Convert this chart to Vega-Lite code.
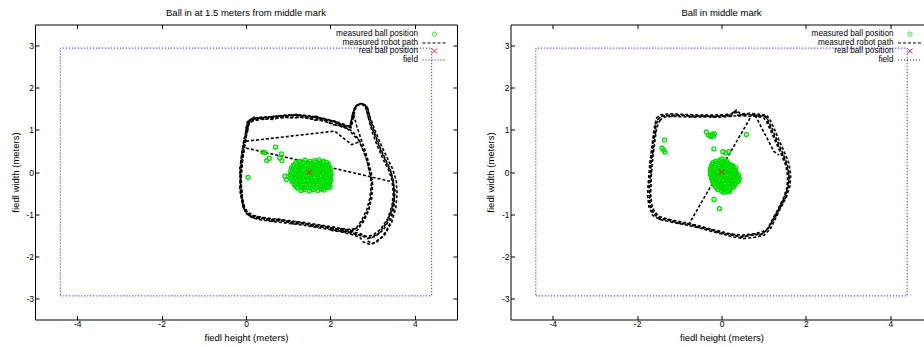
{
"$schema": "https://vega.github.io/schema/vega-lite/v6.json",
"padding": {"left": 9, "top": 6.5, "right": -9, "bottom": 3},
"background": "white",
"config": {
  "font": "Liberation Sans",
  "view": {"stroke": "#000", "strokeWidth": 1},
  "axis": {"grid": false, "domain": false, "tickColor": "#000", "tickSize": -4, "tickWidth": 1, "labelFont": "Liberation Sans", "labelFontSize": 8.5, "labelColor": "#000", "titleFont": "Liberation Sans", "titleFontSize": 9.5, "titleFontWeight": "normal", "titleColor": "#000"},
  "axisX": {"labelPadding": 4, "titlePadding": 4.5},
  "axisY": {"labelPadding": 5.5, "titlePadding": 5.5},
  "title": {"font": "Liberation Sans", "fontSize": 9.5, "fontWeight": "normal", "color": "#000", "offset": 7, "frame": "group", "anchor": "middle"}
},
"spacing": 26.5,
"resolve": {"scale": {"color": "independent"}, "legend": {"color": "independent"}},
"datasets": {
  "field": [{"x":-4.4,"y":-2.94},{"x":4.4,"y":-2.94},{"x":4.4,"y":2.94},{"x":-4.4,"y":2.94},{"x":-4.4,"y":-2.94}],
  "lpath": [
    {"loop":"a","x":0.03,"y":1.02},{"loop":"a","x":0.06,"y":1.17},{"loop":"a","x":0.18,"y":1.25},{"loop":"a","x":0.4,"y":1.28},{"loop":"a","x":0.65,"y":1.3},{"loop":"a","x":0.9,"y":1.33},{"loop":"a","x":1.15,"y":1.34},{"loop":"a","x":1.4,"y":1.32},{"loop":"a","x":1.65,"y":1.28},{"loop":"a","x":1.85,"y":1.25},{"loop":"a","x":2.08,"y":1.18},{"loop":"a","x":2.3,"y":1.1},{"loop":"a","x":2.49,"y":1.05},{"loop":"a","x":2.54,"y":1.28},{"loop":"a","x":2.59,"y":1.5},{"loop":"a","x":2.68,"y":1.6},{"loop":"a","x":2.79,"y":1.59},{"loop":"a","x":2.86,"y":1.47},{"loop":"a","x":2.92,"y":1.2},{"loop":"a","x":3.0,"y":0.92},{"loop":"a","x":3.12,"y":0.6},{"loop":"a","x":3.25,"y":0.3},{"loop":"a","x":3.38,"y":0.05},{"loop":"a","x":3.46,"y":-0.2},{"loop":"a","x":3.49,"y":-0.5},{"loop":"a","x":3.46,"y":-0.8},{"loop":"a","x":3.36,"y":-1.1},{"loop":"a","x":3.2,"y":-1.35},{"loop":"a","x":3.02,"y":-1.49},{"loop":"a","x":2.86,"y":-1.53},{"loop":"a","x":2.7,"y":-1.46},{"loop":"a","x":2.5,"y":-1.41},{"loop":"a","x":2.25,"y":-1.37},{"loop":"a","x":2.0,"y":-1.33},{"loop":"a","x":1.75,"y":-1.29},{"loop":"a","x":1.5,"y":-1.25},{"loop":"a","x":1.25,"y":-1.21},{"loop":"a","x":1.0,"y":-1.18},{"loop":"a","x":0.75,"y":-1.15},{"loop":"a","x":0.5,"y":-1.12},{"loop":"a","x":0.3,"y":-1.09},{"loop":"a","x":0.12,"y":-1.05},{"loop":"a","x":0.0,"y":-0.97},{"loop":"a","x":-0.08,"y":-0.8},{"loop":"a","x":-0.12,"y":-0.55},{"loop":"a","x":-0.14,"y":-0.3},{"loop":"a","x":-0.14,"y":-0.05},{"loop":"a","x":-0.12,"y":0.2},{"loop":"a","x":-0.09,"y":0.45},{"loop":"a","x":-0.05,"y":0.7},{"loop":"a","x":-0.01,"y":0.88},{"loop":"a","x":0.03,"y":1.02},
    {"loop":"b","x":0.01,"y":1.0},{"loop":"b","x":0.04,"y":1.14},{"loop":"b","x":0.16,"y":1.21},{"loop":"b","x":0.38,"y":1.25},{"loop":"b","x":0.62,"y":1.27},{"loop":"b","x":0.88,"y":1.29},{"loop":"b","x":1.12,"y":1.3},{"loop":"b","x":1.38,"y":1.29},{"loop":"b","x":1.62,"y":1.25},{"loop":"b","x":1.84,"y":1.21},{"loop":"b","x":2.06,"y":1.14},{"loop":"b","x":2.28,"y":1.07},{"loop":"b","x":2.46,"y":1.01},{"loop":"b","x":2.58,"y":0.9},{"loop":"b","x":2.7,"y":0.72},{"loop":"b","x":2.8,"y":0.48},{"loop":"b","x":2.88,"y":0.22},{"loop":"b","x":2.95,"y":-0.05},{"loop":"b","x":2.97,"y":-0.3},{"loop":"b","x":2.94,"y":-0.6},{"loop":"b","x":2.86,"y":-0.9},{"loop":"b","x":2.74,"y":-1.15},{"loop":"b","x":2.6,"y":-1.35},{"loop":"b","x":2.4,"y":-1.36},{"loop":"b","x":2.15,"y":-1.32},{"loop":"b","x":1.9,"y":-1.28},{"loop":"b","x":1.65,"y":-1.24},{"loop":"b","x":1.4,"y":-1.2},{"loop":"b","x":1.15,"y":-1.17},{"loop":"b","x":0.9,"y":-1.14},{"loop":"b","x":0.65,"y":-1.11},{"loop":"b","x":0.4,"y":-1.08},{"loop":"b","x":0.18,"y":-1.03},{"loop":"b","x":0.03,"y":-0.95},{"loop":"b","x":-0.06,"y":-0.78},{"loop":"b","x":-0.1,"y":-0.52},{"loop":"b","x":-0.12,"y":-0.28},{"loop":"b","x":-0.12,"y":-0.02},{"loop":"b","x":-0.1,"y":0.23},{"loop":"b","x":-0.07,"y":0.48},{"loop":"b","x":-0.03,"y":0.72},{"loop":"b","x":0.01,"y":0.88},{"loop":"b","x":0.01,"y":1.0},
    {"loop":"c","x":0.05,"y":1.06},{"loop":"c","x":0.09,"y":1.2},{"loop":"c","x":0.22,"y":1.27},{"loop":"c","x":0.45,"y":1.3},{"loop":"c","x":0.7,"y":1.32},{"loop":"c","x":0.95,"y":1.35},{"loop":"c","x":1.2,"y":1.36},{"loop":"c","x":1.45,"y":1.34},{"loop":"c","x":1.7,"y":1.3},{"loop":"c","x":1.9,"y":1.26},{"loop":"c","x":2.12,"y":1.2},{"loop":"c","x":2.32,"y":1.13},{"loop":"c","x":2.47,"y":1.08},{"loop":"c","x":2.51,"y":1.3},{"loop":"c","x":2.57,"y":1.52},{"loop":"c","x":2.67,"y":1.62},{"loop":"c","x":2.8,"y":1.62},{"loop":"c","x":2.89,"y":1.5},{"loop":"c","x":2.95,"y":1.24},{"loop":"c","x":3.04,"y":0.95},{"loop":"c","x":3.16,"y":0.63},{"loop":"c","x":3.29,"y":0.33},{"loop":"c","x":3.41,"y":0.08},{"loop":"c","x":3.49,"y":-0.18},{"loop":"c","x":3.52,"y":-0.48},{"loop":"c","x":3.5,"y":-0.8},{"loop":"c","x":3.4,"y":-1.12},{"loop":"c","x":3.25,"y":-1.38},{"loop":"c","x":3.06,"y":-1.53},{"loop":"c","x":2.88,"y":-1.58},{"loop":"c","x":2.72,"y":-1.5},{"loop":"c","x":2.52,"y":-1.45},{"loop":"c","x":2.27,"y":-1.41},{"loop":"c","x":2.02,"y":-1.37},{"loop":"c","x":1.77,"y":-1.33},{"loop":"c","x":1.52,"y":-1.29},{"loop":"c","x":1.27,"y":-1.25},{"loop":"c","x":1.02,"y":-1.22},{"loop":"c","x":0.77,"y":-1.19},{"loop":"c","x":0.52,"y":-1.16},{"loop":"c","x":0.32,"y":-1.13},{"loop":"c","x":0.14,"y":-1.08},{"loop":"c","x":0.02,"y":-1.0},{"loop":"c","x":-0.06,"y":-0.84},{"loop":"c","x":-0.1,"y":-0.58},{"loop":"c","x":-0.12,"y":-0.32},{"loop":"c","x":-0.13,"y":-0.06},{"loop":"c","x":-0.1,"y":0.18},{"loop":"c","x":-0.07,"y":0.44},{"loop":"c","x":-0.03,"y":0.68},{"loop":"c","x":0.01,"y":0.86},{"loop":"c","x":0.05,"y":1.06},
    {"loop":"d","x":0.0,"y":1.03},{"loop":"d","x":0.03,"y":1.19},{"loop":"d","x":0.14,"y":1.27},{"loop":"d","x":0.35,"y":1.3},{"loop":"d","x":0.6,"y":1.31},{"loop":"d","x":0.85,"y":1.34},{"loop":"d","x":1.1,"y":1.35},{"loop":"d","x":1.35,"y":1.34},{"loop":"d","x":1.6,"y":1.3},{"loop":"d","x":1.82,"y":1.27},{"loop":"d","x":2.04,"y":1.21},{"loop":"d","x":2.26,"y":1.13},{"loop":"d","x":2.45,"y":1.07},{"loop":"d","x":2.5,"y":1.25},{"loop":"d","x":2.55,"y":1.36},{"loop":"d","x":2.62,"y":1.1},{"loop":"d","x":2.72,"y":0.8},{"loop":"d","x":2.82,"y":0.52},{"loop":"d","x":2.9,"y":0.25},{"loop":"d","x":2.97,"y":-0.02},{"loop":"d","x":3.0,"y":-0.3},{"loop":"d","x":2.98,"y":-0.62},{"loop":"d","x":2.9,"y":-0.93},{"loop":"d","x":2.78,"y":-1.18},{"loop":"d","x":2.64,"y":-1.38},{"loop":"d","x":2.44,"y":-1.4},{"loop":"d","x":2.2,"y":-1.36},{"loop":"d","x":1.95,"y":-1.32},{"loop":"d","x":1.7,"y":-1.28},{"loop":"d","x":1.45,"y":-1.24},{"loop":"d","x":1.2,"y":-1.2},{"loop":"d","x":0.95,"y":-1.17},{"loop":"d","x":0.7,"y":-1.14},{"loop":"d","x":0.45,"y":-1.11},{"loop":"d","x":0.22,"y":-1.07},{"loop":"d","x":0.06,"y":-1.0},{"loop":"d","x":-0.04,"y":-0.84},{"loop":"d","x":-0.09,"y":-0.6},{"loop":"d","x":-0.11,"y":-0.34},{"loop":"d","x":-0.11,"y":-0.08},{"loop":"d","x":-0.09,"y":0.17},{"loop":"d","x":-0.06,"y":0.42},{"loop":"d","x":-0.02,"y":0.66},{"loop":"d","x":0.0,"y":0.85},{"loop":"d","x":0.0,"y":1.03},
    {"loop":"e","x":2.47,"y":1.05},{"loop":"e","x":2.52,"y":1.35},{"loop":"e","x":2.6,"y":1.56},{"loop":"e","x":2.74,"y":1.64},{"loop":"e","x":2.86,"y":1.56},{"loop":"e","x":2.94,"y":1.3},{"loop":"e","x":3.06,"y":0.98},{"loop":"e","x":3.2,"y":0.65},{"loop":"e","x":3.34,"y":0.35},{"loop":"e","x":3.47,"y":0.08},{"loop":"e","x":3.56,"y":-0.2},{"loop":"e","x":3.58,"y":-0.5},{"loop":"e","x":3.55,"y":-0.85},{"loop":"e","x":3.45,"y":-1.2},{"loop":"e","x":3.3,"y":-1.47},{"loop":"e","x":3.1,"y":-1.66},{"loop":"e","x":2.94,"y":-1.72},{"loop":"e","x":2.78,"y":-1.66},{"loop":"e","x":2.7,"y":-1.55},{"loop":"e","x":2.5,"y":-1.48},{"loop":"e","x":2.25,"y":-1.42},{"loop":"e","x":2.0,"y":-1.38},
    {"loop":"f","x":3.53,"y":-0.4},{"loop":"f","x":3.5,"y":-0.9},{"loop":"f","x":3.38,"y":-1.3},{"loop":"f","x":3.22,"y":-1.55},{"loop":"f","x":3.0,"y":-1.7},{"loop":"f","x":2.85,"y":-1.62},
    {"loop":"g","x":0.0,"y":0.73},{"loop":"g","x":2.1,"y":0.97},{"loop":"g","x":2.5,"y":0.65},{"loop":"g","x":2.7,"y":0.72},
    {"loop":"h","x":0.0,"y":0.57},{"loop":"h","x":3.41,"y":-0.22},
    {"loop":"i","x":0.02,"y":1.08},{"loop":"i","x":0.07,"y":1.22},{"loop":"i","x":0.2,"y":1.3},{"loop":"i","x":0.42,"y":1.25},{"loop":"i","x":0.68,"y":1.33},{"loop":"i","x":0.92,"y":1.3},{"loop":"i","x":1.18,"y":1.37},{"loop":"i","x":1.42,"y":1.3},{"loop":"i","x":1.68,"y":1.32},{"loop":"i","x":1.88,"y":1.22},{"loop":"i","x":2.1,"y":1.21},{"loop":"i","x":2.3,"y":1.08},{"loop":"i","x":2.5,"y":1.1},{"loop":"i","x":2.53,"y":1.4},{"loop":"i","x":2.62,"y":1.58},{"loop":"i","x":2.72,"y":1.63},{"loop":"i","x":2.83,"y":1.56},{"loop":"i","x":2.9,"y":1.3},{"loop":"i","x":2.97,"y":1.08},{"loop":"i","x":3.08,"y":0.8},{"loop":"i","x":3.2,"y":0.5},{"loop":"i","x":3.33,"y":0.22},{"loop":"i","x":3.44,"y":-0.02},{"loop":"i","x":3.5,"y":-0.32},{"loop":"i","x":3.51,"y":-0.62},{"loop":"i","x":3.44,"y":-0.94},{"loop":"i","x":3.32,"y":-1.22},{"loop":"i","x":3.15,"y":-1.45},{"loop":"i","x":2.96,"y":-1.56},{"loop":"i","x":2.8,"y":-1.52},{"loop":"i","x":2.62,"y":-1.49},{"loop":"i","x":2.4,"y":-1.4},{"loop":"i","x":2.12,"y":-1.39},{"loop":"i","x":1.88,"y":-1.31},{"loop":"i","x":1.62,"y":-1.3},{"loop":"i","x":1.38,"y":-1.22},{"loop":"i","x":1.12,"y":-1.23},{"loop":"i","x":0.88,"y":-1.14},{"loop":"i","x":0.62,"y":-1.17},{"loop":"i","x":0.4,"y":-1.1},{"loop":"i","x":0.2,"y":-1.1},{"loop":"i","x":0.06,"y":-1.02},{"loop":"i","x":-0.05,"y":-0.88},{"loop":"i","x":-0.1,"y":-0.66},{"loop":"i","x":-0.15,"y":-0.42},{"loop":"i","x":-0.13,"y":-0.18},{"loop":"i","x":-0.15,"y":0.06},{"loop":"i","x":-0.11,"y":0.32},{"loop":"i","x":-0.08,"y":0.56},{"loop":"i","x":-0.04,"y":0.8},{"loop":"i","x":0.02,"y":1.08},
    {"loop":"j","x":0.04,"y":0.98},{"loop":"j","x":0.05,"y":1.12},{"loop":"j","x":0.17,"y":1.23},{"loop":"j","x":0.36,"y":1.27},{"loop":"j","x":0.63,"y":1.25},{"loop":"j","x":0.86,"y":1.31},{"loop":"j","x":1.13,"y":1.28},{"loop":"j","x":1.37,"y":1.31},{"loop":"j","x":1.63,"y":1.23},{"loop":"j","x":1.83,"y":1.24},{"loop":"j","x":2.07,"y":1.12},{"loop":"j","x":2.27,"y":1.1},{"loop":"j","x":2.44,"y":1.0},{"loop":"j","x":2.56,"y":0.86},{"loop":"j","x":2.67,"y":0.76},{"loop":"j","x":2.77,"y":0.52},{"loop":"j","x":2.86,"y":0.3},{"loop":"j","x":2.92,"y":0.02},{"loop":"j","x":2.99,"y":-0.25},{"loop":"j","x":2.96,"y":-0.55},{"loop":"j","x":2.92,"y":-0.85},{"loop":"j","x":2.8,"y":-1.1},{"loop":"j","x":2.68,"y":-1.3},{"loop":"j","x":2.5,"y":-1.39},{"loop":"j","x":2.28,"y":-1.35},{"loop":"j","x":2.02,"y":-1.34},{"loop":"j","x":1.78,"y":-1.27},{"loop":"j","x":1.52,"y":-1.26},{"loop":"j","x":1.28,"y":-1.19},{"loop":"j","x":1.02,"y":-1.19},{"loop":"j","x":0.78,"y":-1.12},{"loop":"j","x":0.55,"y":-1.13},{"loop":"j","x":0.3,"y":-1.06},{"loop":"j","x":0.1,"y":-1.04},{"loop":"j","x":-0.02,"y":-0.9},{"loop":"j","x":-0.08,"y":-0.7},{"loop":"j","x":-0.11,"y":-0.45},{"loop":"j","x":-0.13,"y":-0.2},{"loop":"j","x":-0.11,"y":0.05},{"loop":"j","x":-0.12,"y":0.3},{"loop":"j","x":-0.08,"y":0.55},{"loop":"j","x":-0.04,"y":0.78},{"loop":"j","x":0.04,"y":0.98}
  ],
  "lball": [
    {"x":0.05,"y":-0.13},{"x":0.4,"y":0.47},{"x":0.45,"y":0.46},{"x":0.7,"y":0.59},{"x":0.55,"y":0.32},{"x":0.49,"y":0.27},{"x":0.84,"y":0.43},{"x":0.8,"y":0.33},{"x":0.85,"y":0.27},{"x":0.92,"y":-0.1},{"x":0.96,"y":-0.18},{"x":1.0,"y":-0.1},
    {"x":1.28,"y":0.26},{"x":1.4,"y":0.28},{"x":1.52,"y":0.25},{"x":1.63,"y":0.27},{"x":1.73,"y":0.29},{"x":1.84,"y":0.26},
    {"x":1.13,"y":0.17},{"x":1.22,"y":0.19},{"x":1.31,"y":0.18},{"x":1.41,"y":0.16},{"x":1.5,"y":0.19},{"x":1.6,"y":0.17},{"x":1.69,"y":0.2},{"x":1.78,"y":0.18},{"x":1.88,"y":0.16},{"x":1.95,"y":0.19},
    {"x":1.08,"y":0.1},{"x":1.17,"y":0.08},{"x":1.26,"y":0.09},{"x":1.35,"y":0.11},{"x":1.44,"y":0.08},{"x":1.53,"y":0.1},{"x":1.63,"y":0.09},{"x":1.72,"y":0.07},{"x":1.81,"y":0.1},{"x":1.9,"y":0.08},{"x":1.98,"y":0.11},
    {"x":1.06,"y":0.02},{"x":1.15,"y":0.0},{"x":1.24,"y":0.01},{"x":1.33,"y":0.03},{"x":1.42,"y":-0.01},{"x":1.52,"y":0.02},{"x":1.61,"y":0.0},{"x":1.7,"y":0.01},{"x":1.79,"y":0.03},{"x":1.88,"y":0.0},{"x":1.97,"y":0.02},
    {"x":1.05,"y":-0.07},{"x":1.14,"y":-0.06},{"x":1.23,"y":-0.08},{"x":1.32,"y":-0.07},{"x":1.41,"y":-0.05},{"x":1.5,"y":-0.08},{"x":1.59,"y":-0.06},{"x":1.69,"y":-0.07},{"x":1.78,"y":-0.09},{"x":1.87,"y":-0.06},{"x":1.96,"y":-0.08},{"x":2.02,"y":-0.05},
    {"x":1.07,"y":-0.15},{"x":1.16,"y":-0.14},{"x":1.25,"y":-0.16},{"x":1.34,"y":-0.15},{"x":1.43,"y":-0.13},{"x":1.53,"y":-0.16},{"x":1.62,"y":-0.14},{"x":1.71,"y":-0.15},{"x":1.8,"y":-0.17},{"x":1.89,"y":-0.14},{"x":1.98,"y":-0.16},
    {"x":1.1,"y":-0.23},{"x":1.19,"y":-0.22},{"x":1.28,"y":-0.24},{"x":1.37,"y":-0.23},{"x":1.46,"y":-0.21},{"x":1.55,"y":-0.24},{"x":1.64,"y":-0.22},{"x":1.73,"y":-0.23},{"x":1.82,"y":-0.25},{"x":1.91,"y":-0.22},{"x":1.99,"y":-0.24},
    {"x":1.15,"y":-0.31},{"x":1.24,"y":-0.3},{"x":1.33,"y":-0.32},{"x":1.42,"y":-0.31},{"x":1.52,"y":-0.29},{"x":1.61,"y":-0.32},{"x":1.7,"y":-0.3},{"x":1.79,"y":-0.31},{"x":1.88,"y":-0.33},{"x":1.97,"y":-0.3},
    {"x":1.22,"y":-0.38},{"x":1.33,"y":-0.39},{"x":1.44,"y":-0.37},{"x":1.55,"y":-0.4},{"x":1.66,"y":-0.38},{"x":1.77,"y":-0.39},{"x":1.9,"y":-0.37},{"x":1.99,"y":-0.36},
    {"x":1.3,"y":-0.44},{"x":1.5,"y":-0.45},{"x":1.7,"y":-0.44},{"x":1.85,"y":-0.43},
    {"x":1.18,"y":0.22},{"x":1.27,"y":0.23},{"x":1.36,"y":0.22},{"x":1.46,"y":0.23},{"x":1.55,"y":0.21},{"x":1.65,"y":0.23},{"x":1.74,"y":0.24},{"x":1.83,"y":0.22},{"x":1.91,"y":0.23},
    {"x":1.12,"y":0.13},{"x":1.21,"y":0.14},{"x":1.3,"y":0.12},{"x":1.4,"y":0.13},{"x":1.49,"y":0.14},{"x":1.58,"y":0.12},{"x":1.67,"y":0.14},{"x":1.76,"y":0.13},{"x":1.85,"y":0.12},{"x":1.94,"y":0.14},
    {"x":1.1,"y":0.05},{"x":1.2,"y":0.04},{"x":1.29,"y":0.06},{"x":1.38,"y":0.05},{"x":1.48,"y":0.04},{"x":1.57,"y":0.06},{"x":1.66,"y":0.05},{"x":1.75,"y":0.04},{"x":1.84,"y":0.06},{"x":1.93,"y":0.05},{"x":2.0,"y":0.06},
    {"x":1.09,"y":-0.03},{"x":1.19,"y":-0.02},{"x":1.28,"y":-0.04},{"x":1.37,"y":-0.03},{"x":1.46,"y":-0.02},{"x":1.55,"y":-0.04},{"x":1.65,"y":-0.03},{"x":1.74,"y":-0.02},{"x":1.83,"y":-0.04},{"x":1.92,"y":-0.03},{"x":2.0,"y":-0.02},
    {"x":1.1,"y":-0.11},{"x":1.19,"y":-0.1},{"x":1.28,"y":-0.12},{"x":1.37,"y":-0.11},{"x":1.46,"y":-0.1},{"x":1.55,"y":-0.12},{"x":1.64,"y":-0.11},{"x":1.74,"y":-0.1},{"x":1.83,"y":-0.12},{"x":1.92,"y":-0.11},{"x":2.0,"y":-0.12},
    {"x":1.12,"y":-0.19},{"x":1.21,"y":-0.18},{"x":1.3,"y":-0.2},{"x":1.39,"y":-0.19},{"x":1.48,"y":-0.18},{"x":1.58,"y":-0.2},{"x":1.67,"y":-0.19},{"x":1.76,"y":-0.18},{"x":1.85,"y":-0.2},{"x":1.94,"y":-0.19},{"x":2.01,"y":-0.2},
    {"x":1.14,"y":-0.27},{"x":1.23,"y":-0.26},{"x":1.32,"y":-0.28},{"x":1.41,"y":-0.27},{"x":1.5,"y":-0.26},{"x":1.6,"y":-0.28},{"x":1.69,"y":-0.27},{"x":1.78,"y":-0.26},{"x":1.87,"y":-0.28},{"x":1.95,"y":-0.27},
    {"x":1.19,"y":-0.35},{"x":1.28,"y":-0.34},{"x":1.38,"y":-0.36},{"x":1.48,"y":-0.35},{"x":1.58,"y":-0.34},{"x":1.68,"y":-0.36},{"x":1.78,"y":-0.35},{"x":1.86,"y":-0.34},{"x":1.95,"y":-0.35},
    {"x":1.38,"y":-0.42},{"x":1.6,"y":-0.42},{"x":1.8,"y":-0.41}
  ],
  "rpath": [
    {"loop":"a","x":-1.5,"y":1.25},{"loop":"a","x":-1.42,"y":1.32},{"loop":"a","x":-1.2,"y":1.35},{"loop":"a","x":-0.95,"y":1.34},{"loop":"a","x":-0.7,"y":1.33},{"loop":"a","x":-0.45,"y":1.33},{"loop":"a","x":-0.2,"y":1.32},{"loop":"a","x":0.05,"y":1.33},{"loop":"a","x":0.2,"y":1.35},{"loop":"a","x":0.32,"y":1.45},{"loop":"a","x":0.42,"y":1.36},{"loop":"a","x":0.65,"y":1.36},{"loop":"a","x":0.88,"y":1.34},{"loop":"a","x":1.04,"y":1.32},{"loop":"a","x":1.12,"y":1.2},{"loop":"a","x":1.22,"y":0.98},{"loop":"a","x":1.33,"y":0.72},{"loop":"a","x":1.45,"y":0.45},{"loop":"a","x":1.56,"y":0.18},{"loop":"a","x":1.6,"y":-0.1},{"loop":"a","x":1.58,"y":-0.35},{"loop":"a","x":1.5,"y":-0.6},{"loop":"a","x":1.37,"y":-0.85},{"loop":"a","x":1.24,"y":-1.1},{"loop":"a","x":1.12,"y":-1.33},{"loop":"a","x":0.98,"y":-1.46},{"loop":"a","x":0.75,"y":-1.5},{"loop":"a","x":0.5,"y":-1.53},{"loop":"a","x":0.25,"y":-1.5},{"loop":"a","x":0.0,"y":-1.44},{"loop":"a","x":-0.25,"y":-1.38},{"loop":"a","x":-0.5,"y":-1.31},{"loop":"a","x":-0.75,"y":-1.25},{"loop":"a","x":-1.0,"y":-1.2},{"loop":"a","x":-1.25,"y":-1.15},{"loop":"a","x":-1.45,"y":-1.1},{"loop":"a","x":-1.6,"y":-1.0},{"loop":"a","x":-1.68,"y":-0.8},{"loop":"a","x":-1.71,"y":-0.55},{"loop":"a","x":-1.7,"y":-0.3},{"loop":"a","x":-1.69,"y":-0.05},{"loop":"a","x":-1.67,"y":0.2},{"loop":"a","x":-1.64,"y":0.45},{"loop":"a","x":-1.61,"y":0.7},{"loop":"a","x":-1.58,"y":0.95},{"loop":"a","x":-1.55,"y":1.12},{"loop":"a","x":-1.5,"y":1.25},
    {"loop":"b","x":-1.46,"y":1.22},{"loop":"b","x":-1.38,"y":1.3},{"loop":"b","x":-1.15,"y":1.32},{"loop":"b","x":-0.9,"y":1.31},{"loop":"b","x":-0.65,"y":1.3},{"loop":"b","x":-0.4,"y":1.31},{"loop":"b","x":-0.15,"y":1.3},{"loop":"b","x":0.1,"y":1.31},{"loop":"b","x":0.3,"y":1.33},{"loop":"b","x":0.55,"y":1.33},{"loop":"b","x":0.8,"y":1.32},{"loop":"b","x":1.0,"y":1.29},{"loop":"b","x":1.08,"y":1.17},{"loop":"b","x":1.18,"y":0.95},{"loop":"b","x":1.3,"y":0.68},{"loop":"b","x":1.42,"y":0.41},{"loop":"b","x":1.53,"y":0.14},{"loop":"b","x":1.57,"y":-0.12},{"loop":"b","x":1.55,"y":-0.37},{"loop":"b","x":1.47,"y":-0.62},{"loop":"b","x":1.34,"y":-0.88},{"loop":"b","x":1.21,"y":-1.12},{"loop":"b","x":1.09,"y":-1.35},{"loop":"b","x":0.95,"y":-1.43},{"loop":"b","x":0.72,"y":-1.47},{"loop":"b","x":0.48,"y":-1.5},{"loop":"b","x":0.22,"y":-1.47},{"loop":"b","x":-0.02,"y":-1.41},{"loop":"b","x":-0.27,"y":-1.35},{"loop":"b","x":-0.52,"y":-1.28},{"loop":"b","x":-0.77,"y":-1.22},{"loop":"b","x":-1.02,"y":-1.17},{"loop":"b","x":-1.27,"y":-1.12},{"loop":"b","x":-1.46,"y":-1.06},{"loop":"b","x":-1.58,"y":-0.96},{"loop":"b","x":-1.65,"y":-0.78},{"loop":"b","x":-1.68,"y":-0.52},{"loop":"b","x":-1.67,"y":-0.28},{"loop":"b","x":-1.66,"y":-0.03},{"loop":"b","x":-1.64,"y":0.22},{"loop":"b","x":-1.61,"y":0.47},{"loop":"b","x":-1.58,"y":0.72},{"loop":"b","x":-1.55,"y":0.96},{"loop":"b","x":-1.51,"y":1.12},{"loop":"b","x":-1.46,"y":1.22},
    {"loop":"c","x":-1.54,"y":1.28},{"loop":"c","x":-1.45,"y":1.36},{"loop":"c","x":-1.22,"y":1.38},{"loop":"c","x":-0.97,"y":1.37},{"loop":"c","x":-0.72,"y":1.36},{"loop":"c","x":-0.47,"y":1.35},{"loop":"c","x":-0.22,"y":1.35},{"loop":"c","x":0.03,"y":1.36},{"loop":"c","x":0.25,"y":1.38},{"loop":"c","x":0.35,"y":1.47},{"loop":"c","x":0.45,"y":1.38},{"loop":"c","x":0.68,"y":1.39},{"loop":"c","x":0.9,"y":1.37},{"loop":"c","x":1.07,"y":1.35},{"loop":"c","x":1.16,"y":1.22},{"loop":"c","x":1.26,"y":1.0},{"loop":"c","x":1.37,"y":0.74},{"loop":"c","x":1.49,"y":0.47},{"loop":"c","x":1.6,"y":0.2},{"loop":"c","x":1.64,"y":-0.08},{"loop":"c","x":1.62,"y":-0.34},{"loop":"c","x":1.54,"y":-0.59},{"loop":"c","x":1.41,"y":-0.84},{"loop":"c","x":1.28,"y":-1.1},{"loop":"c","x":1.16,"y":-1.35},{"loop":"c","x":1.01,"y":-1.5},{"loop":"c","x":0.78,"y":-1.55},{"loop":"c","x":0.52,"y":-1.58},{"loop":"c","x":0.27,"y":-1.54},{"loop":"c","x":0.02,"y":-1.47},{"loop":"c","x":-0.23,"y":-1.41},{"loop":"c","x":-0.48,"y":-1.34},{"loop":"c","x":-0.73,"y":-1.28},{"loop":"c","x":-0.98,"y":-1.23},{"loop":"c","x":-1.23,"y":-1.18},{"loop":"c","x":-1.46,"y":-1.13},{"loop":"c","x":-1.63,"y":-1.03},{"loop":"c","x":-1.72,"y":-0.82},{"loop":"c","x":-1.75,"y":-0.57},{"loop":"c","x":-1.74,"y":-0.32},{"loop":"c","x":-1.72,"y":-0.07},{"loop":"c","x":-1.7,"y":0.18},{"loop":"c","x":-1.67,"y":0.43},{"loop":"c","x":-1.64,"y":0.68},{"loop":"c","x":-1.61,"y":0.93},{"loop":"c","x":-1.58,"y":1.12},{"loop":"c","x":-1.54,"y":1.28},
    {"loop":"d","x":-0.78,"y":-1.25},{"loop":"d","x":0.69,"y":1.3},
    {"loop":"e","x":0.8,"y":1.34},{"loop":"e","x":1.24,"y":0.49},{"loop":"e","x":1.36,"y":0.4},
    {"loop":"f","x":-1.52,"y":1.24},{"loop":"f","x":-1.4,"y":1.34},{"loop":"f","x":-1.18,"y":1.33},{"loop":"f","x":-0.92,"y":1.36},{"loop":"f","x":-0.68,"y":1.31},{"loop":"f","x":-0.42,"y":1.34},{"loop":"f","x":-0.18,"y":1.31},{"loop":"f","x":0.08,"y":1.35},{"loop":"f","x":0.22,"y":1.32},{"loop":"f","x":0.3,"y":1.42},{"loop":"f","x":0.4,"y":1.34},{"loop":"f","x":0.62,"y":1.38},{"loop":"f","x":0.85,"y":1.33},{"loop":"f","x":1.05,"y":1.34},{"loop":"f","x":1.1,"y":1.19},{"loop":"f","x":1.2,"y":0.96},{"loop":"f","x":1.31,"y":0.7},{"loop":"f","x":1.44,"y":0.43},{"loop":"f","x":1.54,"y":0.16},{"loop":"f","x":1.61,"y":-0.12},{"loop":"f","x":1.57,"y":-0.36},{"loop":"f","x":1.52,"y":-0.6},{"loop":"f","x":1.38,"y":-0.86},{"loop":"f","x":1.26,"y":-1.1},{"loop":"f","x":1.1,"y":-1.34},{"loop":"f","x":0.96,"y":-1.48},{"loop":"f","x":0.73,"y":-1.48},{"loop":"f","x":0.49,"y":-1.55},{"loop":"f","x":0.23,"y":-1.48},{"loop":"f","x":-0.01,"y":-1.46},{"loop":"f","x":-0.26,"y":-1.36},{"loop":"f","x":-0.51,"y":-1.33},{"loop":"f","x":-0.76,"y":-1.23},{"loop":"f","x":-1.01,"y":-1.22},{"loop":"f","x":-1.26,"y":-1.13},{"loop":"f","x":-1.47,"y":-1.12},{"loop":"f","x":-1.61,"y":-0.98},{"loop":"f","x":-1.7,"y":-0.79},{"loop":"f","x":-1.7,"y":-0.54},{"loop":"f","x":-1.72,"y":-0.29},{"loop":"f","x":-1.67,"y":-0.04},{"loop":"f","x":-1.69,"y":0.21},{"loop":"f","x":-1.63,"y":0.46},{"loop":"f","x":-1.63,"y":0.71},{"loop":"f","x":-1.56,"y":0.95},{"loop":"f","x":-1.57,"y":1.13},{"loop":"f","x":-1.52,"y":1.24}
  ],
  "rball": [
    {"x":-1.35,"y":0.76},{"x":-1.41,"y":0.57},{"x":-1.37,"y":0.52},{"x":-1.34,"y":0.47},{"x":-0.36,"y":0.95},{"x":-0.31,"y":0.88},{"x":-0.27,"y":0.86},{"x":-0.22,"y":0.89},{"x":-0.17,"y":0.91},{"x":-0.19,"y":0.85},{"x":-0.25,"y":0.84},{"x":-0.18,"y":0.55},{"x":0.03,"y":0.48},{"x":0.1,"y":0.45},{"x":0.17,"y":0.48},{"x":0.59,"y":0.89},{"x":-0.18,"y":-0.65},{"x":-0.05,"y":-0.87},
    {"x":0.0,"y":0.31},{"x":0.08,"y":0.29},
    {"x":-0.2,"y":0.22},{"x":-0.1,"y":0.23},{"x":-0.01,"y":0.21},{"x":0.08,"y":0.23},{"x":0.16,"y":0.21},
    {"x":-0.24,"y":0.14},{"x":-0.15,"y":0.15},{"x":-0.06,"y":0.13},{"x":0.03,"y":0.15},{"x":0.12,"y":0.14},{"x":0.2,"y":0.13},{"x":0.27,"y":0.15},
    {"x":-0.26,"y":0.06},{"x":-0.17,"y":0.07},{"x":-0.08,"y":0.05},{"x":0.01,"y":0.06},{"x":0.1,"y":0.07},{"x":0.19,"y":0.05},{"x":0.27,"y":0.06},{"x":0.33,"y":0.04},
    {"x":-0.25,"y":-0.02},{"x":-0.16,"y":-0.01},{"x":-0.07,"y":-0.03},{"x":0.02,"y":-0.02},{"x":0.11,"y":-0.01},{"x":0.2,"y":-0.03},{"x":0.29,"y":-0.02},{"x":0.36,"y":-0.03},
    {"x":-0.24,"y":-0.1},{"x":-0.15,"y":-0.09},{"x":-0.06,"y":-0.11},{"x":0.03,"y":-0.1},{"x":0.12,"y":-0.09},{"x":0.21,"y":-0.11},{"x":0.3,"y":-0.1},{"x":0.38,"y":-0.12},
    {"x":-0.22,"y":-0.18},{"x":-0.13,"y":-0.17},{"x":-0.04,"y":-0.19},{"x":0.05,"y":-0.18},{"x":0.14,"y":-0.17},{"x":0.23,"y":-0.19},{"x":0.32,"y":-0.18},{"x":0.41,"y":-0.2},
    {"x":-0.19,"y":-0.26},{"x":-0.1,"y":-0.25},{"x":-0.01,"y":-0.27},{"x":0.08,"y":-0.26},{"x":0.17,"y":-0.25},{"x":0.26,"y":-0.27},{"x":0.34,"y":-0.26},
    {"x":-0.15,"y":-0.34},{"x":-0.06,"y":-0.33},{"x":0.03,"y":-0.35},{"x":0.12,"y":-0.34},{"x":0.21,"y":-0.33},{"x":0.29,"y":-0.35},
    {"x":-0.08,"y":-0.42},{"x":0.02,"y":-0.41},{"x":0.11,"y":-0.43},{"x":0.2,"y":-0.42},
    {"x":0.05,"y":-0.48},{"x":0.15,"y":-0.47},
    {"x":-0.14,"y":0.26},{"x":-0.05,"y":0.27},{"x":0.04,"y":0.25},{"x":0.12,"y":0.26},
    {"x":-0.22,"y":0.18},{"x":-0.13,"y":0.19},{"x":-0.04,"y":0.17},{"x":0.05,"y":0.19},{"x":0.14,"y":0.18},{"x":0.22,"y":0.17},
    {"x":-0.25,"y":0.1},{"x":-0.16,"y":0.11},{"x":-0.07,"y":0.09},{"x":0.02,"y":0.11},{"x":0.11,"y":0.1},{"x":0.2,"y":0.09},{"x":0.28,"y":0.11},{"x":0.33,"y":0.1},
    {"x":-0.27,"y":0.02},{"x":-0.2,"y":0.03},{"x":-0.11,"y":0.01},{"x":-0.02,"y":0.02},{"x":0.07,"y":0.03},{"x":0.16,"y":0.01},{"x":0.25,"y":0.02},{"x":0.33,"y":0.0},
    {"x":-0.26,"y":-0.06},{"x":-0.2,"y":-0.05},{"x":-0.11,"y":-0.07},{"x":-0.02,"y":-0.06},{"x":0.07,"y":-0.05},{"x":0.16,"y":-0.07},{"x":0.25,"y":-0.06},{"x":0.34,"y":-0.05},{"x":0.4,"y":-0.07},
    {"x":-0.24,"y":-0.14},{"x":-0.18,"y":-0.13},{"x":-0.09,"y":-0.15},{"x":0.0,"y":-0.14},{"x":0.09,"y":-0.13},{"x":0.18,"y":-0.15},{"x":0.27,"y":-0.14},{"x":0.36,"y":-0.13},{"x":0.42,"y":-0.15},
    {"x":-0.21,"y":-0.22},{"x":-0.15,"y":-0.21},{"x":-0.06,"y":-0.23},{"x":0.03,"y":-0.22},{"x":0.12,"y":-0.21},{"x":0.21,"y":-0.23},{"x":0.3,"y":-0.22},{"x":0.38,"y":-0.23},
    {"x":-0.17,"y":-0.3},{"x":-0.1,"y":-0.29},{"x":-0.01,"y":-0.31},{"x":0.08,"y":-0.3},{"x":0.17,"y":-0.29},{"x":0.26,"y":-0.31},{"x":0.32,"y":-0.3},
    {"x":-0.11,"y":-0.38},{"x":-0.02,"y":-0.37},{"x":0.07,"y":-0.39},{"x":0.16,"y":-0.38},{"x":0.25,"y":-0.37},
    {"x":0.0,"y":-0.45},{"x":0.1,"y":-0.45},{"x":0.19,"y":-0.46}
  ]
},
"hconcat": [
  {
    "title": "Ball in at 1.5 meters from middle mark",
    "width": 422, "height": 295,
    "resolve": {"axis": {"x": "independent", "y": "independent"}},
    "layer": [
      {"data": {"name": "field"}, "mark": {"type": "line", "strokeWidth": 1, "strokeDash": [1, 2]},
       "encoding": {
         "x": {"field": "x", "type": "quantitative", "scale": {"domain": [-5, 5], "nice": false, "zero": false}, "axis": {"title": "fiedl height (meters)", "values": [-4, -2, 0, 2, 4], "labelExpr": "'' + datum.value"}},
         "y": {"field": "y", "type": "quantitative", "scale": {"domain": [-3.5, 3.5], "nice": false, "zero": false}, "axis": {"title": "fiedl width (meters)", "values": [-3, -2, -1, 0, 1, 2, 3], "labelExpr": "'' + datum.value"}},
         "color": {"datum": "field", "scale": {"domain": ["measured ball position", "measured robot path", "real ball position", "field"], "range": ["#00e000", "#000000", "#ff0000", "#0000ff"]},
           "legend": {"title": null, "orient": "none", "legendX": 395, "legendY": 5, "padding": 0, "rowPadding": -2, "symbolSize": 64, "symbolType": "stroke", "symbolStrokeWidth": 1, "labelAlign": "right", "labelOffset": -21, "labelFontSize": 8.2, "labelFont": "Liberation Sans", "labelColor": "#000", "labelBaseline": "middle",
             "encode": {"symbols": {"update": {
               "shape": {"signal": "datum.value === 'measured ball position' ? 'circle' : (datum.value === 'real ball position' ? 'M-1,-1L1,1M-1,1L1,-1' : 'M-3,0L3,0')"},
               "size": {"signal": "datum.value === 'measured ball position' ? 16 : (datum.value === 'real ball position' ? 25 : 64)"},
               "strokeDash": {"signal": "datum.value === 'measured robot path' ? [3,2] : (datum.value === 'field' ? [1,2] : [1,0])"},
               "stroke": {"signal": "datum.value === 'measured ball position' ? '#00e000' : (datum.value === 'measured robot path' ? '#000000' : (datum.value === 'real ball position' ? '#ff0000' : '#0000ff'))"},
               "fill": {"value": "transparent"},
               "strokeWidth": {"value": 1},
               "opacity": {"value": 1}
             }}}}},
         "order": {"value": null}
       }},
      {"data": {"name": "lpath"}, "mark": {"type": "line", "strokeWidth": 1.6, "strokeDash": [3, 2]},
       "encoding": {"x": {"field": "x", "type": "quantitative", "axis": null}, "y": {"field": "y", "type": "quantitative", "axis": null}, "detail": {"field": "loop"}, "color": {"datum": "measured robot path"}, "order": {"value": null}}},
      {"data": {"name": "lball"}, "mark": {"type": "point", "filled": false, "size": 16, "strokeWidth": 1.3, "opacity": 1},
       "encoding": {"x": {"field": "x", "type": "quantitative", "axis": null}, "y": {"field": "y", "type": "quantitative", "axis": null}, "color": {"datum": "measured ball position"}}},
      {"data": {"values": [{"x": 1.5, "y": 0}]}, "mark": {"type": "point", "shape": "M-1,-1L1,1M-1,1L1,-1", "filled": false, "size": 25, "strokeWidth": 1, "opacity": 1},
       "encoding": {"x": {"field": "x", "type": "quantitative", "axis": {"orient": "top", "labels": false, "title": null, "values": [-4, -2, 0, 2, 4]}}, "y": {"field": "y", "type": "quantitative", "axis": {"orient": "right", "labels": false, "title": null, "values": [-3, -2, -1, 0, 1, 2, 3]}}, "color": {"datum": "real ball position"}}}
    ]
  },
  {
    "title": "Ball in middle mark",
    "width": 422, "height": 295,
    "resolve": {"axis": {"x": "independent", "y": "independent"}},
    "layer": [
      {"data": {"name": "field"}, "mark": {"type": "line", "strokeWidth": 1, "strokeDash": [1, 2]},
       "encoding": {
         "x": {"field": "x", "type": "quantitative", "scale": {"domain": [-5, 5], "nice": false, "zero": false}, "axis": {"title": "fiedl height (meters)", "values": [-4, -2, 0, 2, 4], "labelExpr": "'' + datum.value"}},
         "y": {"field": "y", "type": "quantitative", "scale": {"domain": [-3.5, 3.5], "nice": false, "zero": false}, "axis": {"title": "fiedl width (meters)", "values": [-3, -2, -1, 0, 1, 2, 3], "labelExpr": "'' + datum.value"}},
         "color": {"datum": "field", "scale": {"domain": ["measured ball position", "measured robot path", "real ball position", "field"], "range": ["#00e000", "#000000", "#ff0000", "#0000ff"]},
           "legend": {"title": null, "orient": "none", "legendX": 395, "legendY": 5, "padding": 0, "rowPadding": -2, "symbolSize": 64, "symbolType": "stroke", "symbolStrokeWidth": 1, "labelAlign": "right", "labelOffset": -21, "labelFontSize": 8.2, "labelFont": "Liberation Sans", "labelColor": "#000", "labelBaseline": "middle",
             "encode": {"symbols": {"update": {
               "shape": {"signal": "datum.value === 'measured ball position' ? 'circle' : (datum.value === 'real ball position' ? 'M-1,-1L1,1M-1,1L1,-1' : 'M-3,0L3,0')"},
               "size": {"signal": "datum.value === 'measured ball position' ? 16 : (datum.value === 'real ball position' ? 25 : 64)"},
               "strokeDash": {"signal": "datum.value === 'measured robot path' ? [3,2] : (datum.value === 'field' ? [1,2] : [1,0])"},
               "stroke": {"signal": "datum.value === 'measured ball position' ? '#00e000' : (datum.value === 'measured robot path' ? '#000000' : (datum.value === 'real ball position' ? '#ff0000' : '#0000ff'))"},
               "fill": {"value": "transparent"},
               "strokeWidth": {"value": 1},
               "opacity": {"value": 1}
             }}}}},
         "order": {"value": null}
       }},
      {"data": {"name": "rpath"}, "mark": {"type": "line", "strokeWidth": 1.6, "strokeDash": [3, 2]},
       "encoding": {"x": {"field": "x", "type": "quantitative", "axis": null}, "y": {"field": "y", "type": "quantitative", "axis": null}, "detail": {"field": "loop"}, "color": {"datum": "measured robot path"}, "order": {"value": null}}},
      {"data": {"name": "rball"}, "mark": {"type": "point", "filled": false, "size": 16, "strokeWidth": 1.3, "opacity": 1},
       "encoding": {"x": {"field": "x", "type": "quantitative", "axis": null}, "y": {"field": "y", "type": "quantitative", "axis": null}, "color": {"datum": "measured ball position"}}},
      {"data": {"values": [{"x": 0, "y": 0}]}, "mark": {"type": "point", "shape": "M-1,-1L1,1M-1,1L1,-1", "filled": false, "size": 25, "strokeWidth": 1, "opacity": 1},
       "encoding": {"x": {"field": "x", "type": "quantitative", "axis": {"orient": "top", "labels": false, "title": null, "values": [-4, -2, 0, 2, 4]}}, "y": {"field": "y", "type": "quantitative", "axis": {"orient": "right", "labels": false, "title": null, "values": [-3, -2, -1, 0, 1, 2, 3]}}, "color": {"datum": "real ball position"}}}
    ]
  }
]
}
